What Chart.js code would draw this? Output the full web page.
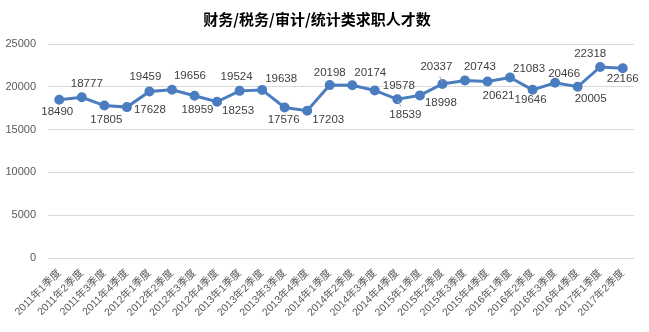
<!DOCTYPE html>
<html><head><meta charset="utf-8">
<script src="https://cdn.jsdelivr.net/npm/chart.js@4/dist/chart.umd.min.js"></script>
<style>html,body{margin:0;padding:0;background:#fff}</style>
</head><body>
<canvas id="c" width="649" height="332"></canvas>
<script>
const title = '财务/税务/审计/统计类求职人才数';
const categories = ['2011年1季度','2011年2季度','2011年3季度','2011年4季度',
  '2012年1季度','2012年2季度','2012年3季度','2012年4季度',
  '2013年1季度','2013年2季度','2013年3季度','2013年4季度',
  '2014年1季度','2014年2季度','2014年3季度','2014年4季度',
  '2015年1季度','2015年2季度','2015年3季度','2015年4季度',
  '2016年1季度','2016年2季度','2016年3季度','2016年4季度',
  '2017年1季度','2017年2季度'];
const values = [18490,18777,17805,17628,19459,19656,18959,18253,19524,19638,17576,17203,
  20198,20174,19578,18539,18998,20337,20743,20621,21083,19646,20466,20005,22318,22166];
const yMin = 0, yMax = 25000, yStep = 5000;
// label offsets relative to each point (style only)
const labelOffsets = [[-2,12],[5,-13],[2,14],[23,3],[-4,-15],[18,-14],[3,14],[21,9],[-3,-14],[19,-11],
  [-1,12],[21,9],[0,-12],[18,-12],[24,-5],[8,16],[21,7],[-6,-17],[15,-14],[11,14],
  [19,-9],[-2,10],[9,-9],[13,12],[-10,-13],[0,11]];
const leaderIdx = [15,17];

const FONT = '"Liberation Sans", "Noto Sans CJK SC", sans-serif';
const COLOR = '#4A7DC0';

const dataLabels = {
  id: 'dataLabels',
  afterDatasetsDraw(chart) {
    const ctx = chart.ctx;
    const meta = chart.getDatasetMeta(0);
    ctx.save();
    ctx.font = '11.5px ' + FONT;
    ctx.fillStyle = '#404040';
    ctx.textAlign = 'center';
    ctx.textBaseline = 'middle';
    meta.data.forEach((pt, i) => {
      const [dx, dy] = labelOffsets[i];
      const lx = pt.x + dx, ly = pt.y + dy;
      if (leaderIdx.includes(i)) {
        ctx.strokeStyle = '#a6a6a6';
        ctx.lineWidth = 1;
        ctx.beginPath();
        ctx.moveTo(pt.x + dx * 0.08, pt.y + dy * 0.08);
        ctx.lineTo(pt.x + dx * 0.45, pt.y + dy * 0.45);
        ctx.stroke();
      }
      ctx.fillText(String(chart.data.datasets[0].data[i]), lx, ly);
    });
    ctx.restore();
  }
};

new Chart(document.getElementById('c'), {
  type: 'line',
  data: {
    labels: categories,
    datasets: [{
      data: values,
      borderColor: COLOR,
      backgroundColor: COLOR,
      borderWidth: 3,
      pointRadius: 3.5,
      pointBackgroundColor: COLOR,
      pointBorderColor: COLOR,
      tension: 0,
      fill: false
    }]
  },
  options: {
    responsive: false,
    animation: false,
    devicePixelRatio: 1,
    layout: { padding: { left: 0, right: 15, top: 0, bottom: 0 } },
    plugins: {
      legend: { display: false },
      tooltip: { enabled: false },
      title: {
        display: true,
        text: title,
        color: '#000',
        font: { family: '"Noto Sans CJK SC", sans-serif', size: 15, weight: 'bold' },
        padding: { top: 10, bottom: 16 }
      }
    },
    scales: {
      x: {
        offset: true,
        grid: { display: false, drawTicks: false },
        border: { display: false },
        ticks: {
          minRotation: 45, maxRotation: 45, autoSkip: false,
          color: '#595959', padding: 9,
          font: { family: FONT, size: 10.5 }
        },
        afterFit(scale) { scale.height = 74; }
      },
      y: {
        min: yMin, max: yMax,
        grid: { color: '#d9d9d9', lineWidth: 1, drawTicks: false },
        border: { display: false },
        ticks: {
          stepSize: yStep, color: '#595959', padding: 12,
          font: { family: FONT, size: 11 },
          callback: (v) => String(v)
        },
        afterFit(scale) { scale.width = 48; }
      }
    }
  },
  plugins: [dataLabels]
});
</script>
</body></html>
